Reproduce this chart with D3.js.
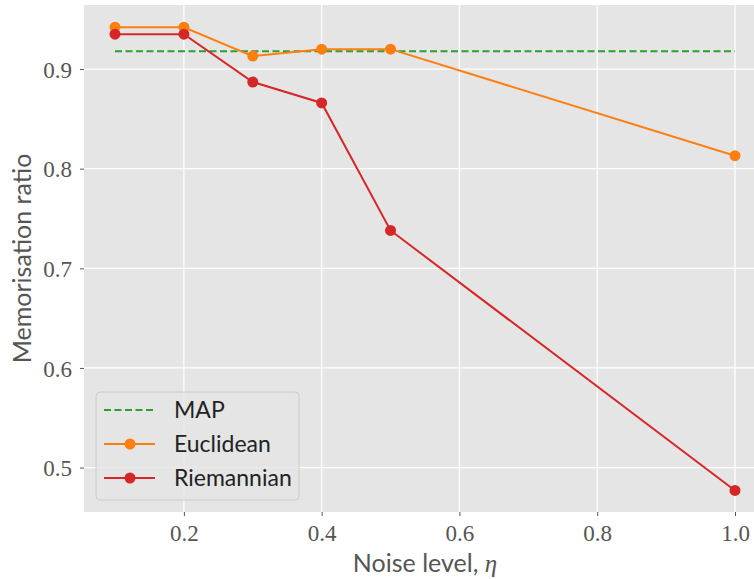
<!DOCTYPE html>
<html><head>
<script src="https://d3js.org/d3.v7.min.js"></script>
<style>
body { margin: 0; background: #fff; }
</style>
</head><body>
<svg id="chart"></svg>
<script>
var W = 754, H = 579;

var noise = [0.1, 0.2, 0.3, 0.4, 0.5, 1.0];
var euclidean = [0.942, 0.942, 0.913, 0.920, 0.920, 0.813];
var riemannian = [0.935, 0.935, 0.887, 0.866, 0.738, 0.477];
var mapValue = 0.918;
var xTicks = [0.2, 0.4, 0.6, 0.8, 1.0];
var yTicks = [0.5, 0.6, 0.7, 0.8, 0.9];
var legendNames = ["MAP", "Euclidean", "Riemannian"];

var pLeft = 84, pTop = 5, pRight = 766, pBottom = 512;
var sans = "Lato, 'Open Sans', sans-serif";
var serif = "'Liberation Serif', 'DejaVu Serif', serif";

var svg = d3.select("#chart").attr("width", W).attr("height", H);

var x = d3.scaleLinear().domain([0.055, 1.045]).range([pLeft, pRight]);
var y = d3.scaleLinear().domain([0.4554, 0.9643]).range([pBottom, pTop]);

svg.append("rect")
    .attr("x", pLeft).attr("y", pTop)
    .attr("width", pRight - pLeft).attr("height", pBottom - pTop)
    .attr("fill", "#e5e5e5");

// grid
svg.append("g").selectAll("line").data(xTicks).enter().append("line")
    .attr("x1", d => x(d)).attr("x2", d => x(d))
    .attr("y1", pTop).attr("y2", pBottom)
    .attr("stroke", "#fff").attr("stroke-width", 1.2);
svg.append("g").selectAll("line").data(yTicks).enter().append("line")
    .attr("y1", d => y(d)).attr("y2", d => y(d))
    .attr("x1", pLeft).attr("x2", pRight)
    .attr("stroke", "#fff").attr("stroke-width", 1.2);

// axes
var fmt = d3.format(".1f");
var xAxis = svg.append("g")
    .attr("transform", "translate(0," + pBottom + ")")
    .call(d3.axisBottom(x).tickValues(xTicks).tickFormat(fmt).tickSize(4).tickPadding(9));
var yAxis = svg.append("g")
    .attr("transform", "translate(" + pLeft + ",0)")
    .call(d3.axisLeft(y).tickValues(yTicks).tickFormat(fmt).tickSize(4).tickPadding(8));
[xAxis, yAxis].forEach(function(a) {
    a.select(".domain").remove();
    a.selectAll(".tick line").attr("stroke", "#555").attr("stroke-width", 1);
    a.selectAll(".tick text")
        .attr("fill", "#555")
        .style("font-family", serif)
        .style("font-size", "23px");
});
yAxis.selectAll(".tick text").attr("dy", "0.35em");

// MAP line
svg.append("line")
    .attr("x1", x(noise[0])).attr("x2", x(noise[noise.length - 1]))
    .attr("y1", y(mapValue)).attr("y2", y(mapValue))
    .attr("stroke", "#2ca02c").attr("stroke-width", 2)
    .attr("stroke-dasharray", "7,3.5");

var line = d3.line().x((d, i) => x(noise[i])).y(d => y(d));
function series(vals, color) {
    svg.append("path").datum(vals)
        .attr("d", line).attr("fill", "none")
        .attr("stroke", color).attr("stroke-width", 2);
    svg.append("g").selectAll("circle").data(vals).enter().append("circle")
        .attr("cx", (d, i) => x(noise[i])).attr("cy", d => y(d))
        .attr("r", 5.5).attr("fill", color);
}
series(euclidean, "#ff7f0e");
series(riemannian, "#d62728");

// labels
svg.append("text")
    .attr("x", 425).attr("y", 572)
    .attr("text-anchor", "middle")
    .attr("fill", "#555")
    .style("font-family", sans)
    .style("font-size", "25px")
    .html("Noise level, <tspan style=\"font-family:'Liberation Serif',serif;font-style:italic\">η</tspan>");
svg.append("text")
    .attr("transform", "translate(31," + ((pTop + pBottom) / 2) + ") rotate(-90)")
    .attr("text-anchor", "middle")
    .attr("fill", "#555")
    .style("font-family", sans)
    .style("font-size", "25px")
    .text("Memorisation ratio");

// legend
var lg = svg.append("g");
lg.append("rect")
    .attr("x", 96).attr("y", 392).attr("width", 203).attr("height", 108)
    .attr("rx", 4).attr("fill", "#e5e5e5").attr("fill-opacity", 0.8)
    .attr("stroke", "#cccccc").attr("stroke-width", 1);
var colors = ["#2ca02c", "#ff7f0e", "#d62728"];
legendNames.forEach(function(name, i) {
    var yy = 410 + i * 34;
    lg.append("line")
        .attr("x1", 104).attr("x2", 155).attr("y1", yy).attr("y2", yy)
        .attr("stroke", colors[i]).attr("stroke-width", 2)
        .attr("stroke-dasharray", i === 0 ? "7,3.5" : null);
    if (i > 0) {
        lg.append("circle").attr("cx", 130).attr("cy", yy).attr("r", 5.5).attr("fill", colors[i]);
    }
    lg.append("text")
        .attr("x", 174).attr("y", yy).attr("dy", "0.35em")
        .attr("fill", "#222")
        .style("font-family", sans)
        .style("font-size", "23px")
        .text(name);
});
</script>
</body></html>
